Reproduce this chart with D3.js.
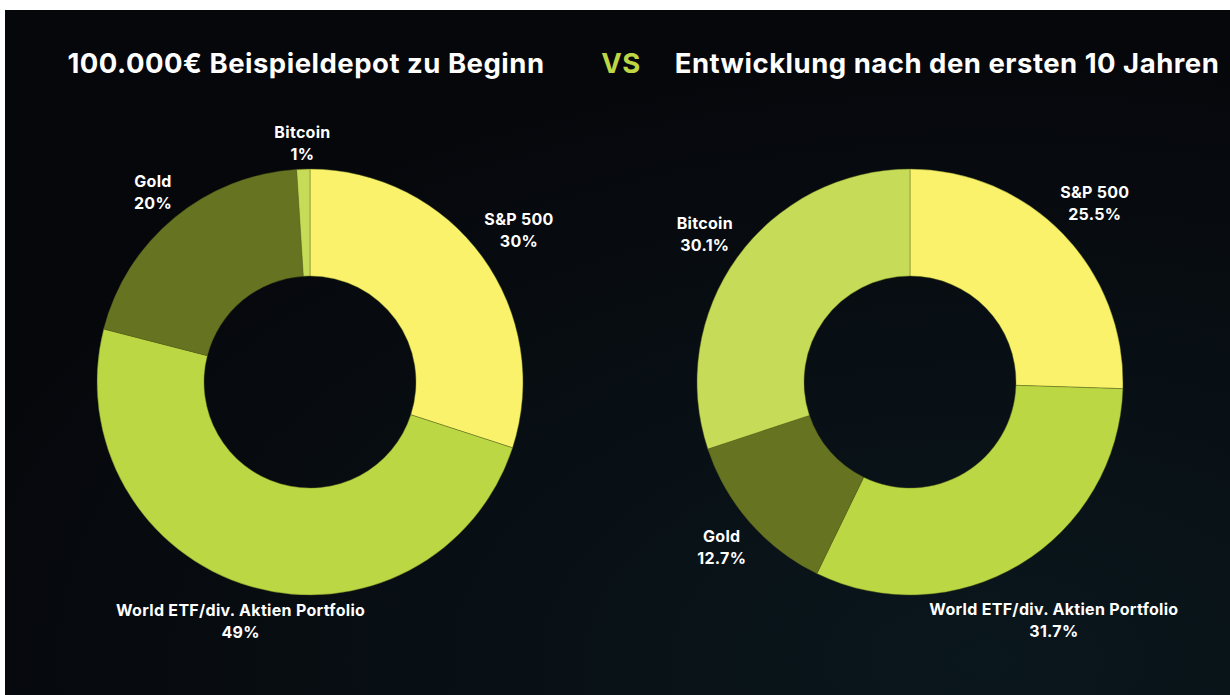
<!DOCTYPE html>
<html lang="de">
<head>
    <meta charset="UTF-8">
    <title>Beispieldepot</title>
    <script src="https://d3js.org/d3.v7.min.js"></script>
    <style>
        html, body { margin: 0; padding: 0; background: #fff; }
        svg { display: block; font-family: Inter, "Noto Sans", sans-serif; }
    </style>
</head>
<body>
    <svg id="chart"></svg>
    <script>
        const width = 1230;
        const height = 695;

        // data
        const categories = ["S&P 500", "World ETF/div. Aktien Portfolio", "Gold", "Bitcoin"];
        const startValues = [30, 49, 20, 1];
        const afterValues = [25.5, 31.7, 12.7, 30.1];
        const titles = ["100.000€ Beispieldepot zu Beginn", "Entwicklung nach den ersten 10 Jahren"];
        const colors = ["#f9f26a", "#bbd744", "#667320", "#c6db57"];

        const svg = d3.select("#chart")
            .attr("width", width)
            .attr("height", height)
            .attr("viewBox", [0, 0, width, height]);

        const defs = svg.append("defs");
        const grad = defs.append("radialGradient")
            .attr("id", "bg")
            .attr("cx", "80%").attr("cy", "95%").attr("r", "90%");
        grad.append("stop").attr("offset", "0%").attr("stop-color", "#0a171d");
        grad.append("stop").attr("offset", "100%").attr("stop-color", "#06070b");

        svg.append("rect")
            .attr("x", 5).attr("y", 10)
            .attr("width", width - 5).attr("height", height - 10)
            .attr("fill", "url(#bg)");

        const color = d3.scaleOrdinal().domain(categories).range(colors);

        const pie = d3.pie().sort(null).value(d => d.value);
        const outerR = 213, innerR = 106, labelGap = 218;
        const arc = d3.arc().innerRadius(innerR).outerRadius(outerR);

        // push a label box outward along the slice's mid angle until its
        // nearest edge sits just outside the ring
        function placeLabel(d) {
            const bb = this.getBBox();
            const a = (d.startAngle + d.endAngle) / 2;
            const dx = Math.sin(a), dy = -Math.cos(a);
            let lo = 0, hi = 500;
            for (let k = 0; k < 40; k++) {
                const t = (lo + hi) / 2;
                const cx = t * dx, cy = t * dy;
                const nx = Math.max(cx - bb.width / 2, Math.min(0, cx + bb.width / 2));
                const ny = Math.max(cy - bb.height / 2, Math.min(0, cy + bb.height / 2));
                if (Math.hypot(nx, ny) < labelGap) lo = t; else hi = t;
            }
            const cx = lo * dx, cy = lo * dy;
            d3.select(this).attr("transform",
                `translate(${cx - (bb.x + bb.width / 2)},${cy - (bb.y + bb.height / 2)})`);
        }

        function donut(cx, cy, values, fmt) {
            const data = pie(categories.map((c, i) => ({name: c, value: values[i]})));
            const g = svg.append("g").attr("transform", `translate(${cx},${cy})`);

            g.selectAll("path")
                .data(data)
                .join("path")
                .attr("d", arc)
                .attr("fill", d => color(d.data.name))
                .attr("stroke", "rgba(90,100,25,0.55)")
                .attr("stroke-width", 0.8);

            const labels = g.selectAll("text")
                .data(data)
                .join("text")
                .attr("text-anchor", "middle")
                .attr("fill", "#fff")
                .attr("font-size", 16)
                .attr("letter-spacing", 0.3)
                .attr("font-weight", 700);
            labels.append("tspan").attr("x", 0).attr("y", -5).text(d => d.data.name);
            labels.append("tspan").attr("x", 0).attr("y", 17).text(d => fmt(d.data.value));
            labels.each(placeLabel);
        }

        donut(310, 382, startValues, v => v + "%");
        donut(910, 382, afterValues, v => v.toFixed(1) + "%");

        const head = svg.append("g")
            .attr("font-size", 27.5)
            .attr("letter-spacing", 0.5)
            .attr("font-weight", 700)
            .attr("text-anchor", "middle");
        head.append("text").attr("x", 306).attr("y", 73).attr("fill", "#fff").text(titles[0]);
        head.append("text").attr("x", 621).attr("y", 73).attr("fill", "#bfd644").text("VS");
        head.append("text").attr("x", 947).attr("y", 73).attr("fill", "#fff").text(titles[1]);
    </script>
</body>
</html>
